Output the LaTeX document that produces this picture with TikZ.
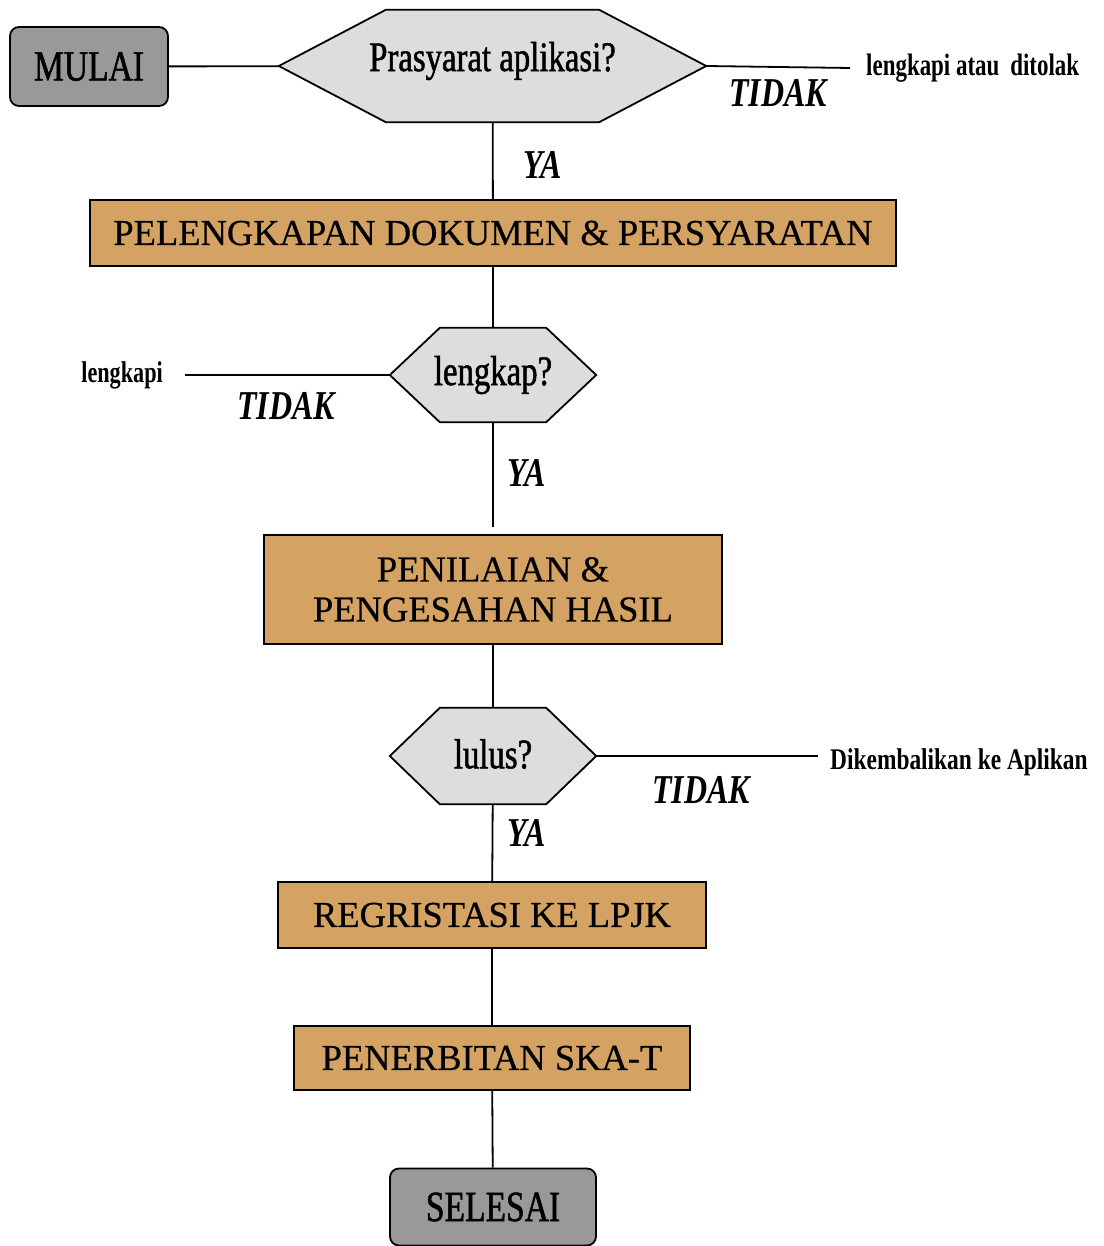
\documentclass[tikz,border=0pt]{standalone}
\usepackage{fontspec}
\setmainfont{Liberation Serif}[FakeBold=0.5]
\newfontfamily\condfont[FakeStretch=0.78]{Liberation Serif}
\newfontfamily\questfont[FakeStretch=0.78,FakeBold=1.2]{Liberation Serif}
\newfontfamily\tightfont[FakeStretch=0.74]{Liberation Serif}
\usetikzlibrary{backgrounds}
\definecolor{boxtan}{HTML}{D4A363}
\definecolor{termgray}{HTML}{999999}
\definecolor{hexgray}{HTML}{DDDDDD}
\newcommand{\drawhex}[2]{%
  \draw[hexfill] (#1.west) -- ([xshift=#2]#1.north west) -- ([xshift=-#2]#1.north east)
    -- (#1.east) -- ([xshift=-#2]#1.south east) -- ([xshift=#2]#1.south west) -- cycle;}
\newcommand{\lift}[2]{\raisebox{#1}[\height][\depth]{#2}}

\begin{document}
\begin{tikzpicture}[x=1pt,y=-1pt,
  term/.style={draw,fill=termgray,rounded corners=9pt,line width=1.8pt,inner sep=0pt,
    font=\questfont\fontsize{43}{44}\selectfont},
  stepbox/.style={draw,fill=boxtan,line width=1.8pt,inner sep=0pt,align=center,
    font=\fontsize{36.5}{40}\selectfont},
  hexq/.style={inner sep=0pt,font=\questfont\fontsize{42}{44}\selectfont},
  hexfill/.style={draw,fill=hexgray,line width=1.8pt},
  answer/.style={inner sep=0pt,font=\condfont\bfseries\itshape\fontsize{41}{44}\selectfont},
  note/.style={inner sep=0pt,font=\tightfont\bfseries\fontsize{30}{32}\selectfont},
  link/.style={line width=1.8pt}]
  \useasboundingbox (0,0) rectangle (1103,1246);

  \node[term,minimum width=158pt,minimum height=79pt] (mulai) at (89,66.5) {MULAI};
  \node[hexq,minimum width=427pt,minimum height=112pt] (prasyarat) at (492.5,66) {\lift{5pt}{Prasyarat aplikasi?}};
  \node[stepbox,minimum width=806pt,minimum height=66pt] (dokumen) at (493,233) {PELENGKAPAN DOKUMEN \& PERSYARATAN};
  \node[hexq,minimum width=206pt,minimum height=94pt] (lengkap) at (493,375) {lengkap?};
  \node[stepbox,minimum width=458pt,minimum height=109pt] (penilaian) at (493,589.5) {PENILAIAN \&\\PENGESAHAN HASIL};
  \node[hexq,minimum width=206pt,minimum height=96pt] (lulus) at (493,756) {\lift{2pt}{lulus?}};
  \node[stepbox,minimum width=428pt,minimum height=66pt] (lpjk) at (492,915) {REGRISTASI KE LPJK};
  \node[stepbox,minimum width=396pt,minimum height=64pt] (ska) at (492,1058) {PENERBITAN SKA-T};
  \node[term,minimum width=206pt,minimum height=77pt] (selesai) at (493,1207) {SELESAI};

  \begin{scope}[on background layer]
    \drawhex{prasyarat}{107pt}
    \drawhex{lengkap}{50pt}
    \drawhex{lulus}{50pt}
  \end{scope}

  % side labels
  \node[note,anchor=west,font=\tightfont\bfseries\fontsize{31}{32}\selectfont] (tolak) at (866,68) {lengkapi atau\, ditolak};
  \node[note,anchor=east] (lengkapi) at (163,375) {lengkapi};
  \node[note,anchor=west,font=\condfont\bfseries\fontsize{30}{32}\selectfont] (kembali) at (830,762) {Dikembalikan ke Aplikan};

  \node[answer] (tidak1) at (778,93) {TIDAK};
  \node[answer] (ya1) at (543,165) {YA};
  \node[answer] (tidak2) at (286,406) {TIDAK};
  \node[answer] (ya2) at (527,473) {YA};
  \node[answer] (tidak3) at (701,790) {TIDAK};
  \node[answer] (ya3) at (527,833) {YA};

  \draw[link] (mulai) -- (prasyarat);
  \draw[link] (prasyarat.east) -- ([xshift=-16pt]tolak.west);
  \draw[link] (prasyarat) -- (dokumen);
  \draw[link] (dokumen) -- (lengkap);
  \draw[link] (lengkap.west) -- ([xshift=22pt]lengkapi.east);
  \draw[link,shorten >=7pt] (lengkap) -- (penilaian);
  \draw[link] (penilaian) -- (lulus);
  \draw[link] (lulus.east) -- ([xshift=-12pt]kembali.west |- lulus.east);
  \draw[link] (lulus) -- (lpjk);
  \draw[link] (lpjk) -- (ska);
  \draw[link] (ska) -- (selesai);
\end{tikzpicture}
\end{document}
